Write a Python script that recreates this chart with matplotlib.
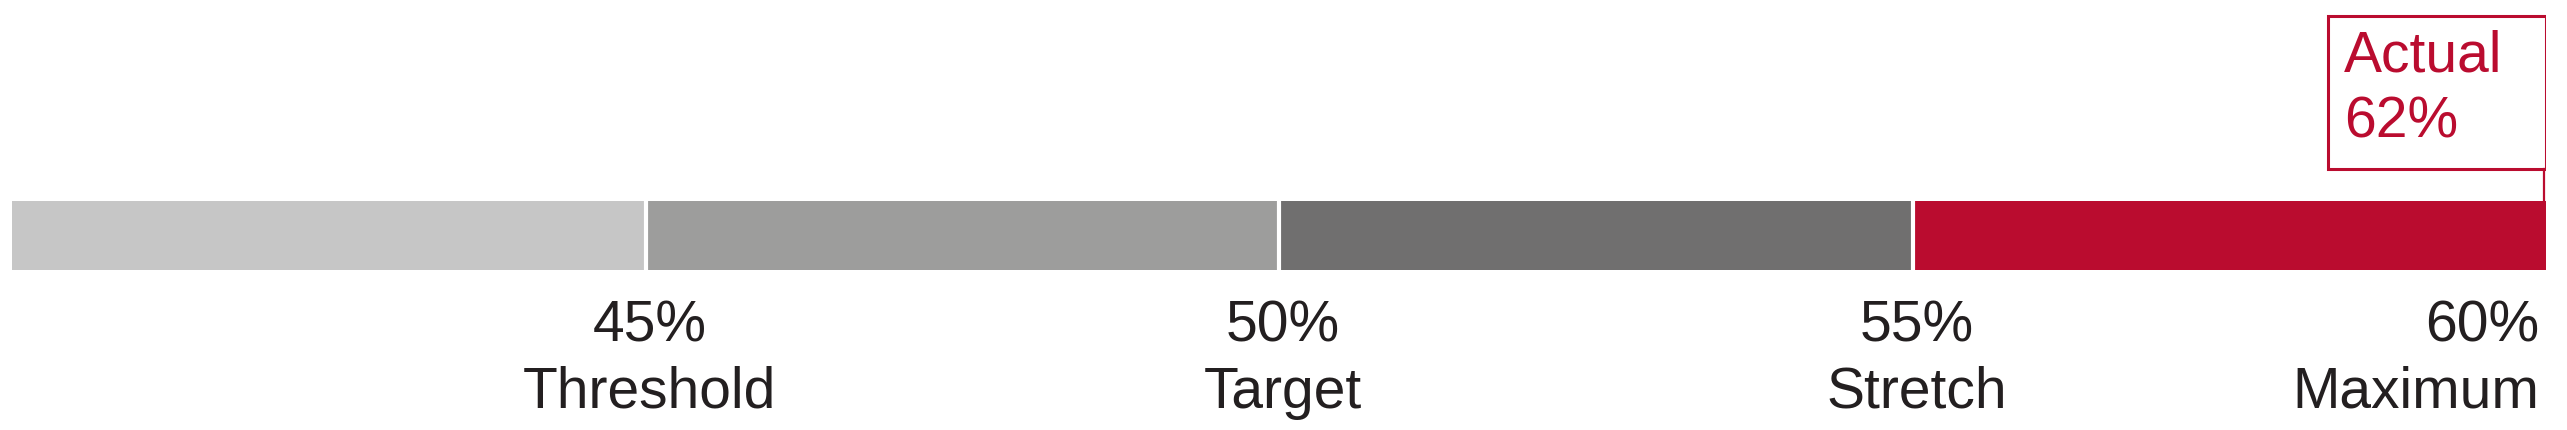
import matplotlib
matplotlib.use("Agg")
import matplotlib.pyplot as plt
from matplotlib.patches import Rectangle

# data
levels = [40, 45, 50, 55, 60]
level_names = ["Threshold", "Target", "Stretch", "Maximum"]
seg_colors = ["#C6C6C6", "#9D9D9C", "#706F6F", "#BA0C2F"]
actual = 62
red = "#BA0C2F"

W, H = 2567, 431
fig = plt.figure(figsize=(W / 100, H / 100), dpi=100)
plt.rcParams["font.family"] = ["Liberation Sans", "DejaVu Sans"]

# axes in pixel-y, data-x
left_px, right_px = 12, 2546
ax = fig.add_axes([left_px / W, 0, (right_px - left_px) / W, 1])
ax.set_xlim(levels[0], levels[-1])
ax.set_ylim(H, 0)
ax.axis("off")
px = (levels[-1] - levels[0]) / (right_px - left_px)  # data units per pixel

# bar segments
bar_top, bar_h = 202, 69
starts = levels[:-1]
widths = [b - a for a, b in zip(levels[:-1], levels[1:])]
ax.barh(bar_top + bar_h / 2, widths, left=starts, height=bar_h,
        color=seg_colors, edgecolor="none")
for x in levels[1:-1]:
    ax.plot([x, x], [bar_top - 1, bar_top + bar_h + 1], color="white",
            lw=3.0, solid_capstyle="butt")

# labels under the bar
fs = 41
for i, (lv, name) in enumerate(zip(levels[1:], level_names)):
    if i == len(level_names) - 1:
        xx, ha = lv - 7 * px, "right"
    else:
        xx, ha = lv + 4 * px, "center"
    ax.text(xx, 342, f"{lv}%", ha=ha, va="baseline", fontsize=fs, color="#231F20")
    ax.text(xx, 408, name, ha=ha, va="baseline", fontsize=fs, color="#231F20")

# actual callout box, pinned to the end of the scale
x_end = min(actual, levels[-1])
box_w = 218 * px
ax.add_patch(Rectangle((x_end - box_w, 17), box_w, 153, fill=False,
                       edgecolor=red, lw=2.2))
ax.plot([x_end - 2 * px, x_end - 2 * px], [170, bar_top], color=red, lw=1.6)
ax.text(x_end - box_w + 16 * px, 72, "Actual", ha="left", va="baseline",
        fontsize=fs, color=red)
ax.text(x_end - box_w + 16 * px, 138, f"{actual}%", ha="left", va="baseline",
        fontsize=fs, color=red)

fig.savefig("out.png", dpi=100)
